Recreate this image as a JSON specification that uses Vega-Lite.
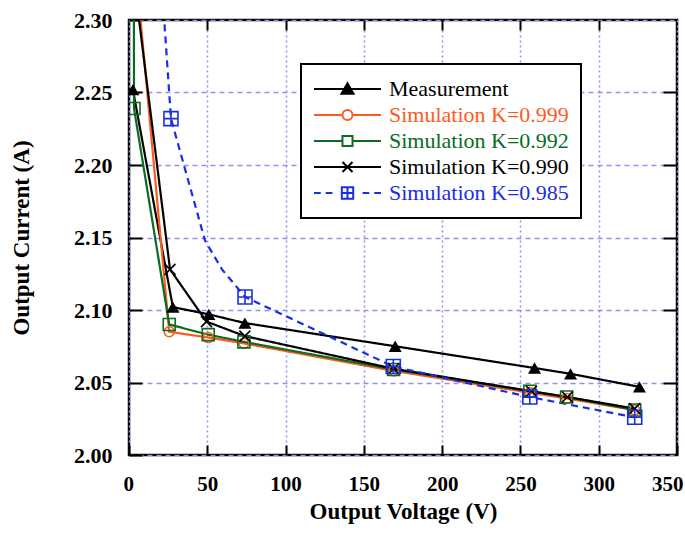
{
  "$schema": "https://vega.github.io/schema/vega-lite/v6.json",
  "width": 548,
  "height": 435,
  "autosize": "none",
  "padding": {"left": 129, "top": 20, "right": 8, "bottom": 78},
  "background": "white",
  "config": {
    "view": {"stroke": "black", "strokeWidth": 2.5},
    "font": "Liberation Serif",
    "legend": {"strokeWidth": 2}
  },
  "datasets": {
    "lines": [
      {"series": "Measurement", "V": 2.5, "I": 2.252},
      {"series": "Measurement", "V": 28, "I": 2.102},
      {"series": "Measurement", "V": 51, "I": 2.097},
      {"series": "Measurement", "V": 74, "I": 2.091},
      {"series": "Measurement", "V": 170, "I": 2.075},
      {"series": "Measurement", "V": 259, "I": 2.06},
      {"series": "Measurement", "V": 282, "I": 2.056},
      {"series": "Measurement", "V": 326, "I": 2.047},
      {"series": "Simulation K=0.999", "V": 0, "I": 2.387},
      {"series": "Simulation K=0.999", "V": 25.7, "I": 2.085},
      {"series": "Simulation K=0.999", "V": 50.6, "I": 2.081},
      {"series": "Simulation K=0.999", "V": 73.4, "I": 2.077},
      {"series": "Simulation K=0.999", "V": 169, "I": 2.058},
      {"series": "Simulation K=0.999", "V": 256, "I": 2.043},
      {"series": "Simulation K=0.999", "V": 279.5, "I": 2.039},
      {"series": "Simulation K=0.999", "V": 323, "I": 2.031},
      {"series": "Simulation K=0.992", "V": 3.0, "I": 2.42},
      {"series": "Simulation K=0.992", "V": 3.2, "I": 2.239},
      {"series": "Simulation K=0.992", "V": 25.7, "I": 2.09},
      {"series": "Simulation K=0.992", "V": 50.6, "I": 2.083},
      {"series": "Simulation K=0.992", "V": 73.4, "I": 2.078},
      {"series": "Simulation K=0.992", "V": 169, "I": 2.059},
      {"series": "Simulation K=0.992", "V": 256, "I": 2.044},
      {"series": "Simulation K=0.992", "V": 279.5, "I": 2.04},
      {"series": "Simulation K=0.992", "V": 323, "I": 2.031},
      {"series": "Simulation K=0.990", "V": 0, "I": 2.356},
      {"series": "Simulation K=0.990", "V": 26.2, "I": 2.128},
      {"series": "Simulation K=0.990", "V": 49.5, "I": 2.092},
      {"series": "Simulation K=0.990", "V": 74, "I": 2.082},
      {"series": "Simulation K=0.990", "V": 169, "I": 2.0595},
      {"series": "Simulation K=0.990", "V": 257, "I": 2.044},
      {"series": "Simulation K=0.990", "V": 280, "I": 2.04},
      {"series": "Simulation K=0.990", "V": 323, "I": 2.032},
      {"series": "Simulation K=0.985", "V": 18.5, "I": 2.363},
      {"series": "Simulation K=0.985", "V": 26.8, "I": 2.232},
      {"series": "Simulation K=0.985", "V": 48.5, "I": 2.148},
      {"series": "Simulation K=0.985", "V": 59.4, "I": 2.128},
      {"series": "Simulation K=0.985", "V": 74.1, "I": 2.109},
      {"series": "Simulation K=0.985", "V": 168.8, "I": 2.061},
      {"series": "Simulation K=0.985", "V": 256, "I": 2.04},
      {"series": "Simulation K=0.985", "V": 323, "I": 2.026}
    ],
    "markers": [
      {"series": "Measurement", "V": 2.5, "I": 2.252},
      {"series": "Measurement", "V": 28, "I": 2.102},
      {"series": "Measurement", "V": 51, "I": 2.097},
      {"series": "Measurement", "V": 74, "I": 2.091},
      {"series": "Measurement", "V": 170, "I": 2.075},
      {"series": "Measurement", "V": 259, "I": 2.06},
      {"series": "Measurement", "V": 282, "I": 2.056},
      {"series": "Measurement", "V": 326, "I": 2.047},
      {"series": "Simulation K=0.999", "V": 25.7, "I": 2.085},
      {"series": "Simulation K=0.999", "V": 50.6, "I": 2.081},
      {"series": "Simulation K=0.999", "V": 73.4, "I": 2.077},
      {"series": "Simulation K=0.999", "V": 169, "I": 2.058},
      {"series": "Simulation K=0.999", "V": 256, "I": 2.043},
      {"series": "Simulation K=0.999", "V": 279.5, "I": 2.039},
      {"series": "Simulation K=0.999", "V": 323, "I": 2.031},
      {"series": "Simulation K=0.992", "V": 3.2, "I": 2.239},
      {"series": "Simulation K=0.992", "V": 25.7, "I": 2.09},
      {"series": "Simulation K=0.992", "V": 50.6, "I": 2.083},
      {"series": "Simulation K=0.992", "V": 73.4, "I": 2.078},
      {"series": "Simulation K=0.992", "V": 169, "I": 2.059},
      {"series": "Simulation K=0.992", "V": 256, "I": 2.044},
      {"series": "Simulation K=0.992", "V": 279.5, "I": 2.04},
      {"series": "Simulation K=0.992", "V": 323, "I": 2.031},
      {"series": "Simulation K=0.990", "V": 26.2, "I": 2.128},
      {"series": "Simulation K=0.990", "V": 49.5, "I": 2.092},
      {"series": "Simulation K=0.990", "V": 74, "I": 2.082},
      {"series": "Simulation K=0.990", "V": 169, "I": 2.0595},
      {"series": "Simulation K=0.990", "V": 257, "I": 2.044},
      {"series": "Simulation K=0.990", "V": 280, "I": 2.04},
      {"series": "Simulation K=0.990", "V": 323, "I": 2.032},
      {"series": "Simulation K=0.985", "V": 26.8, "I": 2.232},
      {"series": "Simulation K=0.985", "V": 74.1, "I": 2.109},
      {"series": "Simulation K=0.985", "V": 168.8, "I": 2.061},
      {"series": "Simulation K=0.985", "V": 256, "I": 2.04},
      {"series": "Simulation K=0.985", "V": 323, "I": 2.026}
    ],
    "keys": [
      {"series": "Measurement"},
      {"series": "Simulation K=0.999"},
      {"series": "Simulation K=0.992"},
      {"series": "Simulation K=0.990"},
      {"series": "Simulation K=0.985"}
    ]
  },
  "resolve": {
    "axis": {"x": "independent", "y": "independent"}
  },
  "layer": [
    {
      "data": {"name": "lines"},
      "mark": {"type": "line", "strokeWidth": 2.2, "clip": true},
      "encoding": {
        "x": {
          "field": "V", "type": "quantitative",
          "scale": {"domain": [0, 350], "nice": false, "zero": false},
          "axis": {
            "values": [0, 50, 100, 150, 200, 250, 300, 350],
            "title": "Output Voltage (V)",
            "grid": true, "gridColor": "#9090ee", "gridDash": [2, 3], "gridWidth": 1.5,
            "domain": false, "tickSize": -10, "tickWidth": 2, "tickColor": "black",
            "labelPadding": 28, "labelFont": "Liberation Serif", "labelFontSize": 21,
            "labelFontWeight": "bold", "labelColor": "black", "labelFlush": true, "labelFlushOffset": 6, "labelOverlap": false,
            "titleFont": "Liberation Serif", "titleFontSize": 23, "titleFontWeight": "bold",
            "titleColor": "black", "titlePadding": 6
          }
        },
        "y": {
          "field": "I", "type": "quantitative",
          "scale": {"domain": [2.0, 2.3], "nice": false, "zero": false},
          "axis": {
            "values": [2.0, 2.05, 2.1, 2.15, 2.2, 2.25, 2.3],
            "format": ".2f",
            "title": "Output Current (A)",
            "grid": true, "gridColor": "#9090ee", "gridDash": [5, 4], "gridWidth": 1.5,
            "domain": false, "tickSize": -13, "tickWidth": 2, "tickColor": "black",
            "labelPadding": 30, "labelFont": "Liberation Serif", "labelFontSize": 22,
            "labelFontWeight": "bold", "labelColor": "black", "labelFlush": false, "labelOverlap": false,
            "titleFont": "Liberation Serif", "titleFontSize": 23, "titleFontWeight": "bold",
            "titleColor": "black", "titlePadding": 40
          }
        },
        "color": {
          "field": "series", "type": "nominal",
          "scale": {
            "domain": ["Simulation K=0.985", "Simulation K=0.990", "Simulation K=0.992", "Simulation K=0.999", "Measurement"],
            "range": ["#1a2de6", "#000000", "#0b6b23", "#ff5a1e", "#000000"]
          },
          "legend": null
        },
        "strokeDash": {
          "field": "series", "type": "nominal",
          "scale": {
            "domain": ["Simulation K=0.985", "Simulation K=0.990", "Simulation K=0.992", "Simulation K=0.999", "Measurement"],
            "range": [[7, 5], [1, 0], [1, 0], [1, 0], [1, 0]]
          },
          "legend": null
        }
      }
    },
    {
      "data": {"name": "markers"},
      "transform": [{"filter": {"field": "series", "equal": "Measurement"}}],
      "mark": {"type": "point", "shape": "triangle-up", "size": 170, "filled": true, "color": "black", "opacity": 1, "clip": true},
      "encoding": {
        "x": {
          "field": "V", "type": "quantitative",
          "axis": {
            "orient": "top", "values": [50, 100, 150, 200, 250, 300], "labels": false, "title": null,
            "grid": false, "domain": false, "tickSize": -10, "tickWidth": 2, "tickColor": "black"
          }
        },
        "y": {
          "field": "I", "type": "quantitative",
          "axis": {
            "orient": "right", "values": [2.05, 2.1, 2.15, 2.2, 2.25], "labels": false, "title": null,
            "grid": false, "domain": false, "tickSize": -14, "tickWidth": 2, "tickColor": "black"
          }
        }
      }
    },
    {
      "data": {"name": "markers"},
      "transform": [{"filter": {"field": "series", "equal": "Simulation K=0.999"}}],
      "mark": {"type": "point", "shape": "circle", "size": 100, "filled": false, "stroke": "#ff5a1e", "strokeWidth": 1.6, "opacity": 1, "clip": true},
      "encoding": {
        "x": {"field": "V", "type": "quantitative", "axis": null},
        "y": {"field": "I", "type": "quantitative", "axis": null}
      }
    },
    {
      "data": {"name": "markers"},
      "transform": [{"filter": {"field": "series", "equal": "Simulation K=0.992"}}],
      "mark": {"type": "point", "shape": "square", "size": 144, "filled": false, "stroke": "#0b6b23", "strokeWidth": 1.6, "opacity": 1, "clip": true},
      "encoding": {
        "x": {"field": "V", "type": "quantitative", "axis": null},
        "y": {"field": "I", "type": "quantitative", "axis": null}
      }
    },
    {
      "data": {"name": "markers"},
      "transform": [{"filter": {"field": "series", "equal": "Simulation K=0.990"}}],
      "mark": {"type": "point", "shape": "M-1,-1L1,1M-1,1L1,-1", "size": 120, "filled": false, "stroke": "#000000", "strokeWidth": 1.6, "opacity": 1, "clip": true},
      "encoding": {
        "x": {"field": "V", "type": "quantitative", "axis": null},
        "y": {"field": "I", "type": "quantitative", "axis": null}
      }
    },
    {
      "data": {"name": "markers"},
      "transform": [{"filter": {"field": "series", "equal": "Simulation K=0.985"}}],
      "mark": {"type": "point", "shape": "M-1,-1H1V1H-1ZM0,-1V1M-1,0H1", "size": 196, "filled": false, "stroke": "#1a2de6", "strokeWidth": 1.6, "opacity": 1, "clip": true},
      "encoding": {
        "x": {"field": "V", "type": "quantitative", "axis": null},
        "y": {"field": "I", "type": "quantitative", "axis": null}
      }
    },
    {
      "data": {"name": "keys"},
      "mark": {"type": "point", "strokeWidth": 2, "size": 4489, "opacity": 1},
      "encoding": {
        "x": {"field": "V", "type": "quantitative", "axis": null},
        "y": {"field": "I", "type": "quantitative", "axis": null},
        "stroke": {
          "field": "series", "type": "nominal",
          "scale": {
            "domain": ["Measurement", "Simulation K=0.999", "Simulation K=0.992", "Simulation K=0.990", "Simulation K=0.985"],
            "range": ["#000000", "#ff5a1e", "#0b6b23", "#000000", "#1a2de6"]
          },
          "legend": {
            "title": null, "orient": "none", "legendX": 172, "legendY": 44,
            "symbolSize": 4489, "clipHeight": 26, "rowPadding": 0, "padding": 12, "labelOffset": 7,
            "labelFont": "Liberation Serif", "labelFontSize": 22, "labelLimit": 400,
            "fillColor": "white", "strokeColor": "black", "symbolStrokeWidth": 2,
            "symbolFillColor": "white", "symbolStrokeColor": "black",
            "labelColor": {"expr": "datum.label == 'Simulation K=0.999' ? '#ff5a1e' : datum.label == 'Simulation K=0.992' ? '#0b6b23' : datum.label == 'Simulation K=0.985' ? '#1a2de6' : '#000000'"}
          }
        },
        "fill": {
          "field": "series", "type": "nominal",
          "scale": {
            "domain": ["Measurement", "Simulation K=0.999", "Simulation K=0.992", "Simulation K=0.990", "Simulation K=0.985"],
            "range": ["#000000", "#ffffff", "#ffffff", "#ffffff", "#ffffff"]
          },
          "legend": {
            "title": null, "orient": "none", "legendX": 172, "legendY": 44,
            "symbolSize": 4489, "clipHeight": 26, "rowPadding": 0, "padding": 12, "labelOffset": 7,
            "labelFont": "Liberation Serif", "labelFontSize": 22, "labelLimit": 400,
            "fillColor": "white", "strokeColor": "black", "symbolStrokeWidth": 2,
            "symbolFillColor": "white", "symbolStrokeColor": "black",
            "labelColor": {"expr": "datum.label == 'Simulation K=0.999' ? '#ff5a1e' : datum.label == 'Simulation K=0.992' ? '#0b6b23' : datum.label == 'Simulation K=0.985' ? '#1a2de6' : '#000000'"}
          }
        },
        "shape": {
          "field": "series", "type": "nominal",
          "scale": {
            "domain": ["Measurement", "Simulation K=0.999", "Simulation K=0.992", "Simulation K=0.990", "Simulation K=0.985"],
            "range": [
              "M-1,0H1M0,-0.17L0.18,0.14L-0.18,0.14Z",
              "M-1,0H-0.15M0.15,0H1M0.15,0A0.15,0.15 0 1,1 -0.15,0A0.15,0.15 0 1,1 0.15,0Z",
              "M-1,0H-0.15M0.15,0H1M-0.15,-0.15H0.15V0.15H-0.15Z",
              "M-1,0H1M-0.15,-0.15L0.15,0.15M-0.15,0.15L0.15,-0.15",
              "M-1,0H-0.8M-0.65,0H-0.45M0.45,0H0.65M0.8,0H1M-0.17,-0.17H0.17V0.17H-0.17ZM0,-0.17V0.17M-0.17,0H0.17"
            ]
          },
          "legend": {
            "title": null, "orient": "none", "legendX": 172, "legendY": 44,
            "symbolSize": 4489, "clipHeight": 26, "rowPadding": 0, "padding": 12, "labelOffset": 7,
            "labelFont": "Liberation Serif", "labelFontSize": 22, "labelLimit": 400,
            "fillColor": "white", "strokeColor": "black", "symbolStrokeWidth": 2,
            "symbolFillColor": "white", "symbolStrokeColor": "black",
            "labelColor": {"expr": "datum.label == 'Simulation K=0.999' ? '#ff5a1e' : datum.label == 'Simulation K=0.992' ? '#0b6b23' : datum.label == 'Simulation K=0.985' ? '#1a2de6' : '#000000'"}
          }
        }
      }
    }
  ]
}
